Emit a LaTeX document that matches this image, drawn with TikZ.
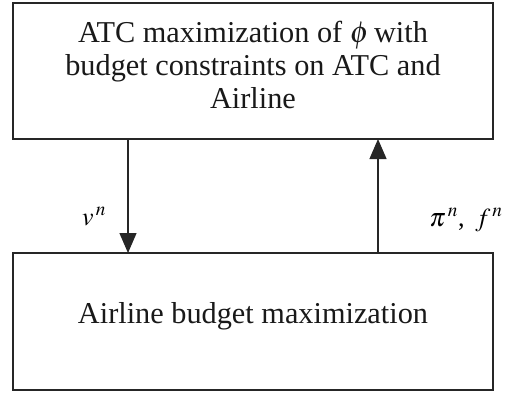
\documentclass[tikz,border=0pt]{standalone}
\usepackage{mathptmx}
\usepackage{fontspec}
\setmainfont{Liberation Serif}
\usetikzlibrary{arrows.meta}
\begin{document}
\begin{tikzpicture}[x=1pt,y=-1pt,
  boxstyle/.style={draw=black!85,line width=1.2pt,inner sep=0pt,outer sep=0pt},
  boxtext/.style={inner sep=0pt,font=\fontsize{30.3}{33}\selectfont,align=center,text=black!90},
  lbl/.style={inner sep=0pt,font=\fontsize{26}{28}\selectfont,anchor=base},
  flow/.style={line width=1.2pt,draw=black!85,-{Triangle[length=20pt,width=17pt]}}]
\useasboundingbox (0,0) rectangle (514,392);
\node[boxstyle,minimum width=480pt,minimum height=136pt] (top) at (253,71) {};
\node[boxstyle,minimum width=480pt,minimum height=137pt] (bot) at (253,321.5) {};
\node[boxtext] (toptext) at (253,65) {ATC maximization of $\phi$\,with\\budget constraints on ATC and\\Airline};
\node[boxtext,anchor=base] (bottext) at (253,323) {Airline budget maximization};
\coordinate (d1) at ([xshift=-125pt]top.south);
\coordinate (d2) at ([xshift=-125pt]bot.north);
\coordinate (u1) at ([xshift=125pt]bot.north);
\coordinate (u2) at ([xshift=125pt]top.south);
\draw[flow] (d1) -- (d2);
\draw[flow] (u1) -- (u2);
\node[lbl] (vlbl) at (94,225) {$v^{\,n}$};
\node[lbl] (plbl) at (466,226) {$\pi^{\,n}$,\, $f^{\,n}$};
\end{tikzpicture}
\end{document}
